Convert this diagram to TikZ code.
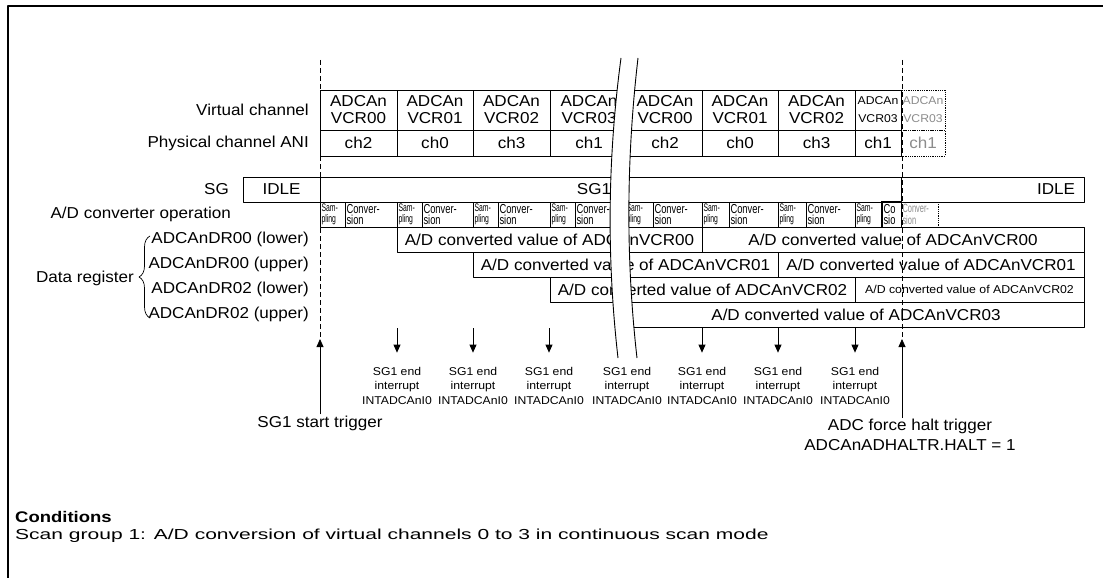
\documentclass[tikz,border=0pt]{standalone}
\usepackage{fontspec}
\setmainfont{Liberation Sans}[FakeStretch=1.08]
\newfontfamily\opfont{Liberation Sans}[FakeStretch=0.72]
\newfontfamily\sampfont{Liberation Sans}[FakeStretch=0.62]
\newfontfamily\condhead{Liberation Sans}[FakeStretch=1.2]
\newfontfamily\condfont{Liberation Sans}[FakeStretch=1.45]
\usetikzlibrary{arrows.meta,decorations.pathreplacing}

\newcommand\mainsz{\fontsize{15.8}{17}\selectfont}
\newcommand\smallsz{\fontsize{11.3}{14.5}\selectfont}
\newcommand\convsz{\opfont\fontsize{13}{11.5}\selectfont}
\newcommand\sampsz{\sampfont\fontsize{11}{11.5}\selectfont}
\colorlet{ghost}{black!45}

\begin{document}
\begin{tikzpicture}[x=1pt, y=-1pt, >={Triangle[length=8pt,width=7pt]}, line join=round]
  \useasboundingbox (0,0) rectangle (1103,578);

  % Estilos de celdas, etiquetas y flechas
  \tikzset{
    cell/.style={draw, line width=0.8pt, inner sep=0pt, align=center, font=\mainsz},
    ghostcell/.style={draw, densely dotted, line width=0.8pt, inner sep=0pt, align=center, text=ghost},
    opcell/.style={draw, line width=0.8pt, inner xsep=1.5pt, inner ysep=0pt, align=left, minimum height=25pt},
    rowlbl/.style={anchor=east, inner sep=0pt, font=\mainsz},
    intlbl/.style={align=center, inner sep=1pt, font=\smallsz},
    intarrow/.style={->, line width=0.8pt, shorten >=13pt},
    trigarrow/.style={->, line width=0.8pt},
    guide/.style={line width=0.8pt, dash pattern=on 5pt off 3pt},
    breakline/.style={line width=0.9pt}
  }

  % Marco
  \draw[line width=2pt] (8,578) -- (8,6) -- (1103,6);

  % Etiquetas de filas
  \node[rowlbl] (lvc) at (309,110) {Virtual channel};
  \node[rowlbl] (lani) at (309,143) {Physical channel ANI};
  \node[rowlbl] (lsg) at (229,189.5) {SG};
  \node[rowlbl] (lop) at (231,214.5) {A/D converter operation};
  \node[rowlbl] (ldr1) at (309,239.5) {ADCAnDR00 (lower)};
  \node[rowlbl] (ldr2) at (309,264.5) {ADCAnDR00 (upper)};
  \node[rowlbl] (ldr3) at (309,289.5) {ADCAnDR02 (lower)};
  \node[rowlbl] (ldr4) at (309,314.5) {ADCAnDR02 (upper)};
  \node[rowlbl] (ldata) at (134,278) {Data register};
  \draw[line width=0.7pt, decorate, decoration={brace, amplitude=11pt}] (150,318) -- (150,236);

  % Canal virtual y canal fisico
  \foreach \xa/\xb/\vc/\cn [count=\i] in {320/397/00/2, 397/473/01/0, 473/550/02/3, 550/628/03/1,
                                        628/702/00/2, 702/778/01/0, 778/855/02/3} {
    \node[cell, minimum width={(\xb-\xa)*1pt}, minimum height=40pt] (vc\i) at ({(\xa+\xb)/2},110) {ADCAn\\VCR\vc};
    \node[cell, minimum width={(\xb-\xa)*1pt}, minimum height=26pt] (ani\i) at ({(\xa+\xb)/2},143) {ch\cn};
  }
  \node[cell, minimum width=46pt, minimum height=40pt, font=\fontsize{11.3}{18}\selectfont] (vc8) at (878,110) {ADCAn\\VCR03};
  \node[cell, minimum width=46pt, minimum height=26pt] (ani8) at (878,143) {ch1};
  \node[ghostcell, minimum width=44pt, minimum height=40pt, font=\fontsize{11.3}{18}\selectfont] (vcg) at (923,110) {ADCAn\\VCR03};
  \node[ghostcell, minimum width=44pt, minimum height=26pt, font=\mainsz] (anig) at (923,143) {ch1};

  % Grupo de escaneo
  \node[cell, minimum width=77pt, minimum height=25pt] (idle1) at (281.5,189.5) {IDLE};
  \node[cell, minimum width=581pt, minimum height=25pt] (sg1) at (610.5,189.5) {};
  \node[font=\mainsz, inner sep=0pt] (sg1lbl) at (594,189.5) {SG1};
  \node[cell, minimum width=183pt, minimum height=25pt, inner xsep=9pt, text width=165pt, align=right] (idle2) at (992.5,189.5) {IDLE};

  % Operacion del convertidor
  \foreach \xa/\xb [count=\i] in {320/345, 397/422, 473/498, 550/575, 625/653, 702/729, 778/806, 855/882}
    \node[opcell, font=\sampsz, minimum width={(\xb-\xa)*1pt}, text width={(\xb-\xa-3)*1pt}] (smp\i) at ({(\xa+\xb)/2},214.5) {\mbox{Sam-}\\pling};
  \foreach \xa/\xb [count=\i] in {345/397, 422/473, 498/550, 575/625, 653/702, 729/778, 806/855}
    \node[opcell, font=\convsz, minimum width={(\xb-\xa)*1pt}, text width={(\xb-\xa-3)*1pt}] (cnv\i) at ({(\xa+\xb)/2},214.5) {\mbox{Conver-}\\sion};
  \begin{scope}
    \clip (882,202) rectangle (901,227);
    \node[opcell, font=\convsz, minimum width=19pt, text width=16pt] (cnv8) at (891.5,214.5) {\mbox{Co}\\sio};
  \end{scope}
  \draw[line width=0.8pt] (cnv8.north west) rectangle (cnv8.south east);
  \node[ghostcell, minimum width=37pt, minimum height=25pt, inner xsep=1.5pt, text width=34pt, align=left,
        font=\sampfont\fontsize{12}{11.5}\selectfont] (cnvg) at (919.5,214.5) {\mbox{Conver-}\\sion};

  % Registros de datos
  \node[cell, minimum width=305pt, minimum height=25pt] (dr1a) at (549.5,239.5) {A/D converted value of ADCAnVCR00};
  \node[cell, minimum width=382pt, minimum height=25pt] (dr1b) at (893,239.5) {A/D converted value of ADCAnVCR00};
  \node[cell, minimum width=305pt, minimum height=25pt] (dr2a) at (625.5,264.5) {A/D converted value of ADCAnVCR01};
  \node[cell, minimum width=306pt, minimum height=25pt] (dr2b) at (931,264.5) {A/D converted value of ADCAnVCR01};
  \node[cell, minimum width=305pt, minimum height=25pt] (dr3a) at (702.5,289.5) {A/D converted value of ADCAnVCR02};
  \node[cell, minimum width=229pt, minimum height=25pt, font=\fontsize{11.4}{14}\selectfont] (dr3b) at (969.5,289.5) {A/D converted value of ADCAnVCR02};
  \node[cell, minimum width=456pt, minimum height=25pt] (dr4) at (856,314.5) {A/D converted value of ADCAnVCR03};

  % Corte del eje de tiempo
  \fill[white] (621,58) .. controls (606,170) and (608,270) .. (618,358)
    -- (637,358) .. controls (627,270) and (625,170) .. (638,58) -- cycle;
  \draw[breakline] (621,58) .. controls (606,170) and (608,270) .. (618,358);
  \draw[breakline] (638,58) .. controls (625,170) and (627,270) .. (637,358);

  % Interrupciones de fin de SG1
  \foreach \xi [count=\i] in {397,473,549,627,702,778,855} {
    \node[intlbl] (int\i) at (\xi,385.5) {SG1 end\\interrupt\\INTADCAnI0};
    \coordinate (ia\i) at (\xi,328);
  }
  \foreach \i in {1,2,3,5,6,7}
    \draw[intarrow] (ia\i) -- (int\i);

  % Disparadores de inicio y parada
  \coordinate (dtop1) at (320,60);
  \coordinate (dtop2) at (902,60);
  \coordinate (sttip) at (320,339);
  \coordinate (httip) at (902,339);
  \node[font=\mainsz, inner sep=1pt] (start) at (320,423) {SG1 start trigger};
  \node[font=\fontsize{15.8}{20}\selectfont, align=center, inner sep=1pt] (halt) at (910,435) {ADC force halt trigger\\ADCAnADHALTR.HALT = 1};
  \draw[guide] (dtop1) -- (sttip);
  \draw[guide] (dtop2) -- (httip);
  \draw[trigarrow] (start) -- (sttip);
  \draw[trigarrow] (httip |- halt.north) -- (httip);

  % Condiciones
  \node[anchor=west, inner sep=0pt, font=\condhead\bfseries\fontsize{15.4}{18}\selectfont] (cond) at (15,517) {Conditions};
  \node[anchor=west, inner sep=0pt, font=\condfont\fontsize{14.5}{18}\selectfont] (condtxt) at (15,536) {Scan group 1: A/D conversion of virtual channels 0 to 3 in continuous scan mode};
\end{tikzpicture}
\end{document}
